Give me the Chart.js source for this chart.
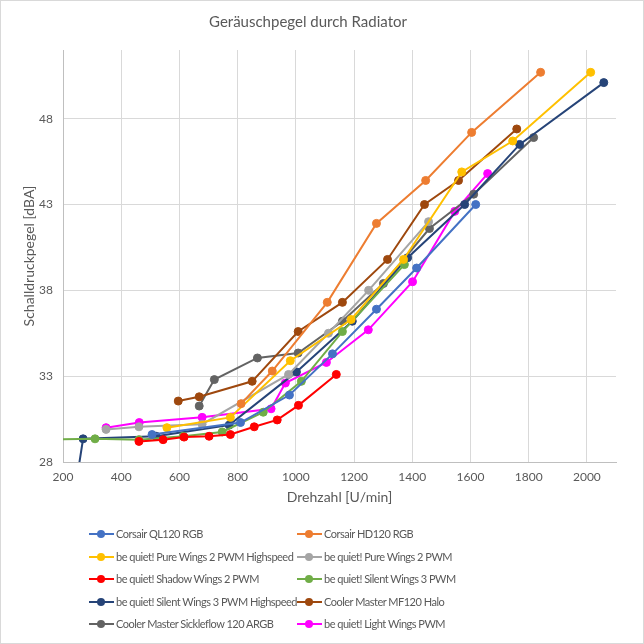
<!DOCTYPE html>
<html>
<head>
<meta charset="utf-8">
<script src="https://cdn.jsdelivr.net/npm/chart.js@4.4.0/dist/chart.umd.min.js"></script>
<style>
  body { margin: 0; background: #fff; }
  #wrap { position: relative; width: 644px; height: 644px; font-family: Lato, sans-serif; }
  #frame { position: absolute; left: 0; top: 0; width: 644px; height: 644px; box-sizing: border-box; border: 1px solid #d9d9d9; pointer-events: none; }
  #legend { position: absolute; left: 0; top: 524px; width: 644px; }
  .item { position: absolute; height: 20px; font-size: 11px; letter-spacing: -0.5px; color: #595959; white-space: nowrap; line-height: 20px; }
  .swatch { position: absolute; left: 0; top: 9px; width: 25px; height: 2px; }
  .dot { position: absolute; left: 8px; top: -3px; width: 8px; height: 8px; border-radius: 50%; }
  .label { position: absolute; left: 27px; top: 0; }
</style>
</head>
<body>
<div id="wrap">
  <canvas id="myChart" width="644" height="644"></canvas>
  <div id="legend"></div>
  <div id="frame"></div>
</div>
<script>
// Drehzahl [U/min] / Schalldruckpegel [dBA]
const ql120Rpm = [506, 810, 978, 1126, 1277, 1415, 1618];
const ql120Db  = [29.6, 30.3, 31.9, 34.3, 36.9, 39.3, 43.0];

const hd120Rpm = [812, 919, 1108, 1277, 1446, 1604, 1841];
const hd120Db  = [31.4, 33.3, 37.3, 41.9, 44.4, 47.2, 50.7];

const pureHsRpm = [557, 775, 981, 1190, 1370, 1570, 1745, 2013];
const pureHsDb  = [30.0, 30.6, 33.9, 36.3, 39.8, 44.9, 46.7, 50.7];

const pureRpm = [348, 461, 678, 975, 1112, 1250, 1456];
const pureDb  = [29.9, 30.05, 30.2, 33.1, 35.5, 38.0, 42.0];

const shadowRpm = [461, 544, 616, 702, 775, 857, 936, 1009, 1139];
const shadowDb  = [29.2, 29.3, 29.45, 29.5, 29.6, 30.05, 30.45, 31.3, 33.1];

const silentRpm = [100, 310, 461, 613, 747, 888, 1019, 1160, 1373];
const silentDb  = [29.3, 29.35, 29.3, 29.5, 29.75, 30.9, 32.7, 35.6, 39.5];

const silentHsRpm = [0, 269, 520, 771, 1002, 1194, 1384, 1580, 1769, 2058];
const silentHsDb  = [0, 29.35, 29.5, 30.15, 33.25, 36.2, 39.9, 43.0, 46.5, 50.1];

const mf120Rpm = [596, 668, 850, 1008, 1160, 1315, 1442, 1559, 1759];
const mf120Db  = [31.55, 31.8, 32.7, 35.6, 37.3, 39.8, 43.0, 44.4, 47.4];

const sickleRpm = [668, 720, 868, 1008, 1160, 1301, 1459, 1611, 1817];
const sickleDb  = [31.26, 32.8, 34.06, 34.35, 36.2, 38.4, 41.6, 43.6, 46.9];

const lightRpm = [348, 462, 678, 915, 964, 1105, 1249, 1401, 1546, 1659];
const lightDb  = [30.0, 30.3, 30.6, 31.1, 32.6, 33.8, 35.7, 38.5, 42.6, 44.8];

const seriesNames = [
  'Corsair QL120 RGB', 'Corsair HD120 RGB',
  'be quiet! Pure Wings 2 PWM Highspeed', 'be quiet! Pure Wings 2 PWM',
  'be quiet! Shadow Wings 2 PWM', 'be quiet! Silent Wings 3 PWM',
  'be quiet! Silent Wings 3 PWM Highspeed', 'Cooler Master MF120 Halo',
  'Cooler Master Sickleflow 120 ARGB', 'be quiet! Light Wings PWM'
];
const seriesRpm = [ql120Rpm, hd120Rpm, pureHsRpm, pureRpm, shadowRpm, silentRpm, silentHsRpm, mf120Rpm, sickleRpm, lightRpm];
const seriesDb  = [ql120Db, hd120Db, pureHsDb, pureDb, shadowDb, silentDb, silentHsDb, mf120Db, sickleDb, lightDb];
const seriesColors = ['#4472c4', '#ed7d31', '#ffc000', '#a5a5a5', '#ff0000', '#70ad47', '#264478', '#9e480e', '#636363', '#ff00ff'];

const xTicks = [200, 400, 600, 800, 1000, 1200, 1400, 1600, 1800, 2000];
const yTicks = [28, 33, 38, 43, 48];

const datasets = seriesNames.map((name, i) => ({
  label: name,
  data: seriesRpm[i].map((x, j) => ({ x: x, y: seriesDb[i][j] })),
  borderColor: seriesColors[i],
  backgroundColor: seriesColors[i],
  borderWidth: 2,
  pointRadius: 4,
  pointBorderWidth: 1,
  showLine: true,
  tension: 0
}));

Chart.defaults.font.family = 'Lato, sans-serif';
Chart.defaults.color = '#595959';

new Chart(document.getElementById('myChart'), {
  type: 'scatter',
  data: { datasets: datasets },
  options: {
    responsive: false,
    animation: false,
    devicePixelRatio: 1,
    layout: { padding: { left: 0, right: 28, top: 0, bottom: 135 } },
    plugins: {
      legend: { display: false },
      tooltip: { enabled: false },
      title: {
        display: true,
        text: 'Geräuschpegel durch Radiator',
        color: '#595959',
        font: { size: 15, weight: 'normal' },
        padding: { top: 13, bottom: 19 }
      }
    },
    scales: {
      x: {
        type: 'linear',
        min: 200,
        max: 2100,
        afterBuildTicks: (scale) => { scale.ticks = xTicks.map(v => ({ value: v })); },
        afterFit: (scale) => { scale.height = 47; },
        ticks: { padding: 8, font: { size: 12 }, color: '#595959', callback: (v) => String(v) },
        grid: { color: '#d9d9d9', drawTicks: false },
        border: { color: '#bfbfbf' },
        title: { display: true, text: 'Drehzahl [U/min]', font: { size: 14 }, color: '#595959', padding: { top: 4, bottom: 3 } }
      },
      y: {
        type: 'linear',
        min: 28,
        max: 52,
        afterBuildTicks: (scale) => { scale.ticks = yTicks.map(v => ({ value: v })); },
        afterFit: (scale) => { scale.width = 63; },
        ticks: { padding: 10, font: { size: 12 }, color: '#595959', callback: (v) => String(v) },
        grid: { color: '#d9d9d9', drawTicks: false },
        border: { color: '#bfbfbf' },
        title: { display: true, text: 'Schalldruckpegel [dBA]', font: { size: 14 }, color: '#595959', padding: { top: 21, bottom: 0 } }
      }
    }
  }
});

// legend in two columns like the original
const legend = document.getElementById('legend');
seriesNames.forEach((name, i) => {
  const item = document.createElement('div');
  item.className = 'item';
  item.style.left = (i % 2 === 0 ? 89 : 297) + 'px';
  item.style.top = (Math.floor(i / 2) * 22.5) + 'px';
  item.innerHTML = '<div class="swatch" style="background:' + seriesColors[i] + '"><div class="dot" style="background:' + seriesColors[i] + '"></div></div>' +
    '<span class="label">' + name + '</span>';
  legend.appendChild(item);
});
</script>
</body>
</html>
